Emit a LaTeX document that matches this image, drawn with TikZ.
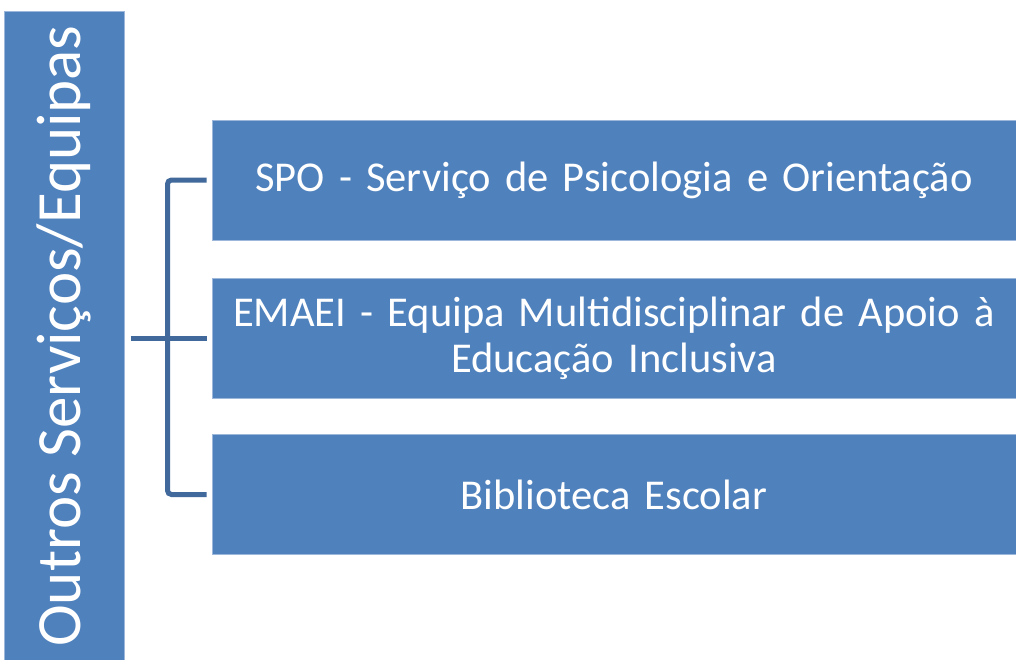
\documentclass[tikz,border=0pt]{standalone}
\usepackage{fontspec}
\setmainfont{Carlito}
\usepackage{tikz}
\usepackage{xcolor}
\usetikzlibrary{positioning}
\definecolor{boxblue}{HTML}{4F81BD}
\definecolor{edgeblue}{HTML}{9DB7DA}
\definecolor{linkblue}{HTML}{41699C}
\tikzset{
  unitbox/.style={fill=boxblue, draw=edgeblue, line width=1pt, text=white,
    minimum width=804pt, minimum height=120pt, inner sep=6pt, text width=786pt,
    align=center, font=\fontsize{42.5}{46}\selectfont},
  groupbox/.style={fill=boxblue, draw=edgeblue, line width=1pt, text=white,
    minimum width=649pt, minimum height=120pt, rotate=90,
    font=\fontsize{63}{70}\selectfont},
  link/.style={draw=linkblue, line width=5pt, rounded corners=4pt}
}
\begin{document}
\begin{tikzpicture}[x=1pt,y=-1pt]

\useasboundingbox (0,0) rectangle (1016,659);
%
\node[groupbox] (grupo) at (64,336) {Outros Serviços/Equipas};
\node[unitbox] (spo) at (614,180) {SPO - Serviço de Psicologia e Orientação};
\node[unitbox] (emaei) at (614,338) {EMAEI - Equipa Multidisciplinar de Apoio à\\Educação Inclusiva};
\node[unitbox] (bib) at (614,494.5) {Biblioteca Escolar};
\coordinate[left=44pt of emaei.west] (hub);
%
\draw[link, shorten <=6pt, shorten >=5pt] (grupo.south |- emaei.west) -- (emaei.west);
\draw[link, shorten <=5pt, shorten >=5pt] (spo.west) -| (hub) |- (bib.west);

\end{tikzpicture}
\end{document}
